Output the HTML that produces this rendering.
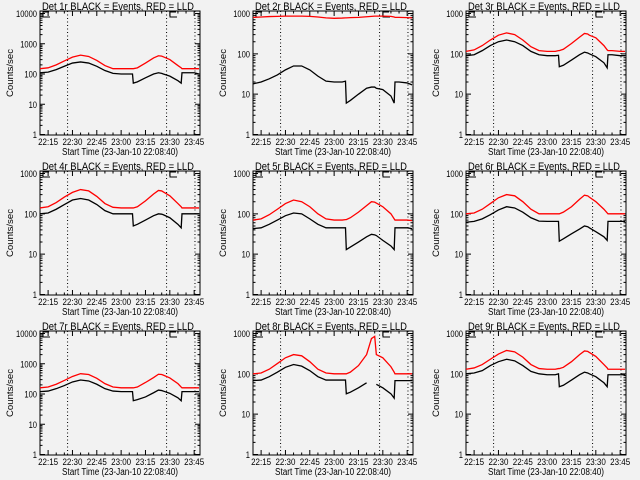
<!DOCTYPE html>
<html><head><meta charset="utf-8"><style>
html,body{margin:0;padding:0;background:#f2f2f2;}
svg{display:block;font-family:"Liberation Sans",sans-serif;}
</style></head><body>
<svg id="chart" width="640" height="480" viewBox="0 0 640 480" xmlns="http://www.w3.org/2000/svg">
<rect width="640" height="480" fill="#f2f2f2"/>
</svg>
<script>
const times = [0,5,10,15,20,25,30,35,40,45,50,55,57,57.5,60,65,70,73,75,76,80,85,87,87.5,90,95,98];
const xTickLabels = ["22:15","22:30","22:45","23:00","23:15","23:30","23:45"];
const xTickMinutes = [5,20,35,50,65,80,95];
const markerMinutes = [17,78,95.5];
const detNames = ["1r","2r","3r","4r","5r","6r","7r","8r","9r"];
const decades = [4,3,3,3,3,3,4,3,3];
const red1 = [150,160,200,270,360,420,380,280,190,150,150,150,150,150,160,230,340,400,390,370,300,190,160,150,150,150,150];
const black1 = [110,115,140,180,230,250,230,180,130,105,100,100,100,50,55,75,100,110,105,100,85,60,50,110,110,110,100];
const red2 = [800,820,840,850,860,860,860,850,820,780,760,770,780,780,790,800,830,850,860,860,860,850,820,800,800,790,780];
const black2 = [18,20,24,30,40,50,50,40,28,21,20,20,21,6,7,10,14,15,15,14,13,9,6,20,20,19,17];
const red3 = [115,125,160,220,290,330,300,220,150,120,115,115,120,120,130,180,260,320,310,290,250,160,125,120,120,115,115];
const black3 = [90,95,120,160,200,220,200,160,115,95,90,90,92,48,52,70,95,110,105,100,85,60,45,95,95,90,90];
const red4 = [140,150,190,260,340,400,370,270,180,145,140,140,140,140,150,210,310,380,370,350,280,180,150,140,140,140,140];
const black4 = [100,105,130,170,220,240,220,170,120,100,100,100,100,50,55,70,90,100,98,95,80,55,45,100,100,100,100];
const red5 = [70,75,95,130,180,220,200,150,100,75,70,70,72,72,80,110,160,200,195,185,150,100,75,70,70,70,68];
const black5 = [43,45,55,70,90,105,100,75,55,45,45,45,45,13,15,20,27,31,30,29,22,16,13,45,45,45,43];
const red6 = [100,105,130,180,250,300,280,200,130,100,100,100,100,100,110,150,230,290,280,260,200,130,105,100,100,100,100];
const black6 = [62,65,75,95,125,150,140,110,80,66,65,65,65,21,24,32,42,50,48,45,36,27,22,65,65,65,65];
const red7 = [160,170,210,280,380,470,440,330,220,170,160,160,160,160,170,240,350,450,440,420,340,220,170,160,160,160,160];
const black7 = [120,125,150,190,250,290,270,210,150,125,120,120,120,60,65,80,110,135,130,125,105,75,60,120,120,120,120];
const red8 = [100,105,130,180,250,300,280,200,130,105,100,100,100,100,110,160,300,750,850,300,250,150,110,100,100,100,100];
const black8 = [68,70,85,110,145,170,155,120,85,70,70,70,70,32,35,45,60,null,null,55,45,32,25,68,68,68,68];
const red9 = [130,140,170,230,310,380,350,260,170,135,130,130,135,135,145,200,300,370,360,340,270,170,140,130,130,130,130];
const black9 = [100,105,120,160,200,230,210,160,115,100,95,95,100,48,52,70,95,110,105,100,85,60,48,95,95,95,95];
const redSeries = [red1,red2,red3,red4,red5,red6,red7,red8,red9];
const blackSeries = [black1,black2,black3,black4,black5,black6,black7,black8,black9];

const NS = "http://www.w3.org/2000/svg";
const svg = document.getElementById("chart");
const X0 = 40, X1 = 200, YT = 11, YB = 135, YTOP = 13.5, YBOT = 134.5, TMAX = 98.6;
function xs(t){ return X0 + t/TMAX*(X1-X0); }
function mk(tag, parent, attrs){ const e=document.createElementNS(NS,tag); for(const k in attrs) e.setAttribute(k,attrs[k]); parent.appendChild(e); return e; }

for (let p=0;p<9;p++){
  const col=p%3,row=Math.floor(p/3);
  const dec=decades[p];
  const ys = v => YBOT - Math.log10(v)/dec*(YBOT-YTOP);
  const g = mk("g", svg, {transform:`translate(${col*213},${row*160})`});
  
  

  const box = mk("rect", g, {x:X0,y:YT,width:X1-X0,height:YB-YT,fill:"none",stroke:"#000","stroke-width":1});
  
  

  const title = mk("text", g, {x:118,y:10,"text-anchor":"middle","font-size":"11",textLength:"152",lengthAdjust:"spacingAndGlyphs",fill:"#000"});
  title.textContent = "Det "+detNames[p]+" BLACK = Events, RED = LLD";
  
  

  let tk = "";
  for (let d=0; d<=dec; d++){
    const v=Math.pow(10,d), y=ys(v);
    tk += `M${X0},${y}h5M${X1},${y}h-5`;
    const s = String(v);
    const lab = mk("text", g, {x:37,y:y+3.5,"text-anchor":"end","font-size":"9",textLength:String(s.length*4.2),lengthAdjust:"spacingAndGlyphs",fill:"#000"});
    lab.textContent = s;
    
    
    if (d<dec) for (let m=2;m<=9;m++){ const ym=ys(m*v); tk += `M${X0},${ym}h2.5M${X1},${ym}h-2.5`; }
  }
  for (let i=0;i<xTickMinutes.length;i++){
    const x=xs(xTickMinutes[i]);
    tk += `M${x},${YB}v-5M${x},${YT}v5`;
    const lab = mk("text", g, {x:x,y:145,"text-anchor":"middle","font-size":"9",textLength:"20",lengthAdjust:"spacingAndGlyphs",fill:"#000"});
    lab.textContent = xTickLabels[i];
    
    
  }
  for (let t=0;t<=TMAX;t+=5){ const x=xs(t); tk += `M${x},${YB}v-2.5M${x},${YT}v2.5`; }
  const ticks = mk("path", g, {d:tk,stroke:"#000","stroke-width":1,fill:"none"});
  
  

  const xt = mk("text", g, {x:120,y:155,"text-anchor":"middle","font-size":"10",textLength:"116",lengthAdjust:"spacingAndGlyphs",fill:"#000"});
  xt.textContent = "Start Time (23-Jan-10 22:08:40)";
  
  

  const yt = mk("text", g, {x:0,y:0,transform:"translate(13,73) rotate(-90)","text-anchor":"middle","font-size":"9",textLength:"48",lengthAdjust:"spacingAndGlyphs",fill:"#000"});
  yt.textContent = "Counts/sec";
  
  

  for (const m of markerMinutes){
    const l = mk("line", g, {x1:xs(m),x2:xs(m),y1:YT,y2:YB,stroke:"#000","stroke-width":1,"stroke-dasharray":"1,2.5"});
    
    
  }
  for (const bx of [43,170]){
    const b = mk("path", g, {d:`M${bx+6},${YT+1}H${bx}V${YT+6}H${bx+7}`,stroke:"#000","stroke-width":1,fill:"none"});
    
    
  }

  function line(data,color,name){
    let d="",pen=false;
    for (let i=0;i<times.length;i++){
      const v=data[i];
      if (v==null){pen=false;continue;}
      d += (pen?"L":"M")+xs(times[i]).toFixed(2)+","+ys(v).toFixed(2);
      pen=true;
    }
    const pth = mk("path", g, {d:d,stroke:color,"stroke-width":1.3,fill:"none"});
    
    
  }
  line(redSeries[p],"#ff0000","lld-rate-line");
  line(blackSeries[p],"#000000","events-rate-line");
}
</script>
</body></html>
